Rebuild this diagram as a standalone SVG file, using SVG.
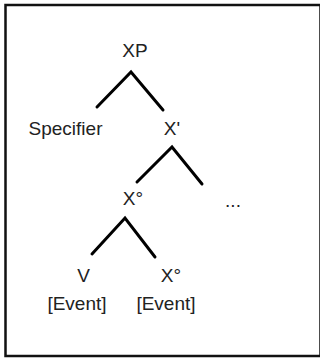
<svg xmlns="http://www.w3.org/2000/svg" width="320" height="359" viewBox="0 0 320 359">
<style>
.t{font-family:"Liberation Sans",Arial,sans-serif;font-size:19px;fill:#222;text-anchor:middle}
.e{stroke:#000;stroke-width:3;fill:none;stroke-linecap:round;stroke-linejoin:miter}
</style>
<rect x="0" y="0" width="320" height="359" fill="#fff"/>
<rect x="5.5" y="5" width="315" height="351" fill="none" stroke="#111" stroke-width="2.5"/>
<g id="connectors">
<polyline class="e" points="97,107 131,72 163,110"/>
<polyline class="e" points="137,182 172,147 202,184"/>
<polyline class="e" points="92,254 125,218 155,257"/>
</g>
<g id="XP"><text class="t" x="135" y="57">XP</text></g>
<g id="Specifier"><text class="t" x="65.5" y="135">Specifier</text></g>
<g id="Xbar"><text class="t" x="172" y="135">X'</text></g>
<g id="X0"><text class="t" x="133" y="205">X°</text></g>
<g id="ellipsis"><text class="t" x="233" y="207">...</text></g>
<g id="V"><text class="t" x="83.5" y="282">V</text><text class="t" x="77" y="310">[Event]</text></g>
<g id="X0b"><text class="t" x="171" y="282">X°</text><text class="t" x="166" y="310">[Event]</text></g>
</svg>
